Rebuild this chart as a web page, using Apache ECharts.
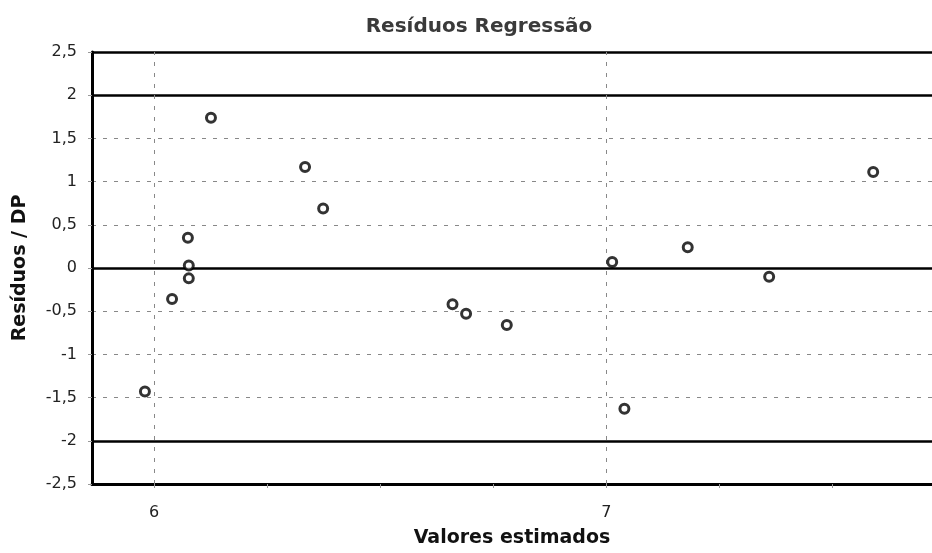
<!DOCTYPE html>
<html>
<head>
<meta charset="utf-8">
<title>Resíduos Regressão</title>
<script src="https://cdn.jsdelivr.net/npm/echarts@6/dist/echarts.min.js"></script>
<style>
    html, body { margin: 0; padding: 0; background: #fff; }
    #residuos-chart { width: 932px; height: 553px; }
</style>
</head>
<body>
<div id="residuos-chart"></div>
<script>
// valores estimados (x) e resíduos padronizados (y)
var valoresEstimados = [5.98, 6.04, 6.075, 6.077, 6.077, 6.126, 6.334, 6.374, 6.66, 6.69, 6.78, 7.013, 7.04, 7.18, 7.36, 7.59];
var residuosDP = [-1.43, -0.36, 0.35, 0.03, -0.12, 1.74, 1.17, 0.69, -0.42, -0.53, -0.66, 0.07, -1.63, 0.24, -0.10, 1.11];
var xLabels = [6, 7];
var xTicks = [6, 6.25, 6.5, 6.75, 7, 7.25, 7.5];
var limites = [2.5, 2, 0, -2];

var pontos = valoresEstimados.map(function (v, i) { return [v, residuosDP[i]]; });

var chart = echarts.init(document.getElementById('residuos-chart'));
var option = {
    animation: false,
    textStyle: { fontFamily: 'DejaVu Sans, Verdana, sans-serif' },
    title: {
        text: 'Resíduos Regressão',
        left: 474,
        top: 12,
        textAlign: 'center',
        textStyle: { fontFamily: 'DejaVu Sans', fontSize: 20, fontWeight: 'bold', color: '#3a3a3a' }
    },
    grid: { left: 92, right: 0, top: 52, bottom: 68 },
    xAxis: {
        type: 'value',
        min: 5.863,
        max: 7.72,
        name: 'Valores estimados',
        nameLocation: 'middle',
        nameGap: 45,
        nameTextStyle: { fontFamily: 'DejaVu Sans', fontSize: 19, fontWeight: 'bold', color: '#111' },
        axisLine: { show: true, onZero: false, lineStyle: { color: '#000', width: 3 } },
        axisTick: { show: true, customValues: xTicks, length: 4, lineStyle: { color: '#999' } },
        axisLabel: { customValues: xLabels, fontSize: 16, color: '#222', margin: 21 },
        splitLine: { show: false }
    },
    yAxis: {
        type: 'value',
        min: -2.5,
        max: 2.5,
        interval: 0.5,
        name: 'Resíduos / DP',
        nameLocation: 'middle',
        nameGap: 62,
        nameTextStyle: { fontFamily: 'DejaVu Sans', fontSize: 19, fontWeight: 'bold', color: '#111' },
        axisLine: { show: true, lineStyle: { color: '#000', width: 3 } },
        axisTick: { show: true, length: 4, lineStyle: { color: '#999' } },
        axisLabel: {
            fontSize: 16,
            color: '#222',
            margin: 15,
            formatter: function (v) { return String(v).replace('.', ','); }
        },
        splitLine: { show: true, lineStyle: { color: '#888', type: [4, 7], width: 1 } }
    },
    series: [
        {
            type: 'scatter',
            data: pontos,
            symbol: 'circle',
            symbolSize: 9,
            itemStyle: { color: '#fff', borderColor: '#000', borderWidth: 3 },
            markLine: {
                silent: true,
                symbol: 'none',
                label: { show: false },
                data: limites.map(function (l) {
                    return { yAxis: l, lineStyle: { color: '#000', width: 2.5, type: 'solid' } };
                }).concat(xLabels.map(function (x) {
                    return { xAxis: x, lineStyle: { color: '#888', width: 1, type: [4, 7] } };
                }))
            },
            z: 5
        }
    ]
};
chart.setOption(option);
window.addEventListener('resize', chart.resize);
</script>
</body>
</html>
